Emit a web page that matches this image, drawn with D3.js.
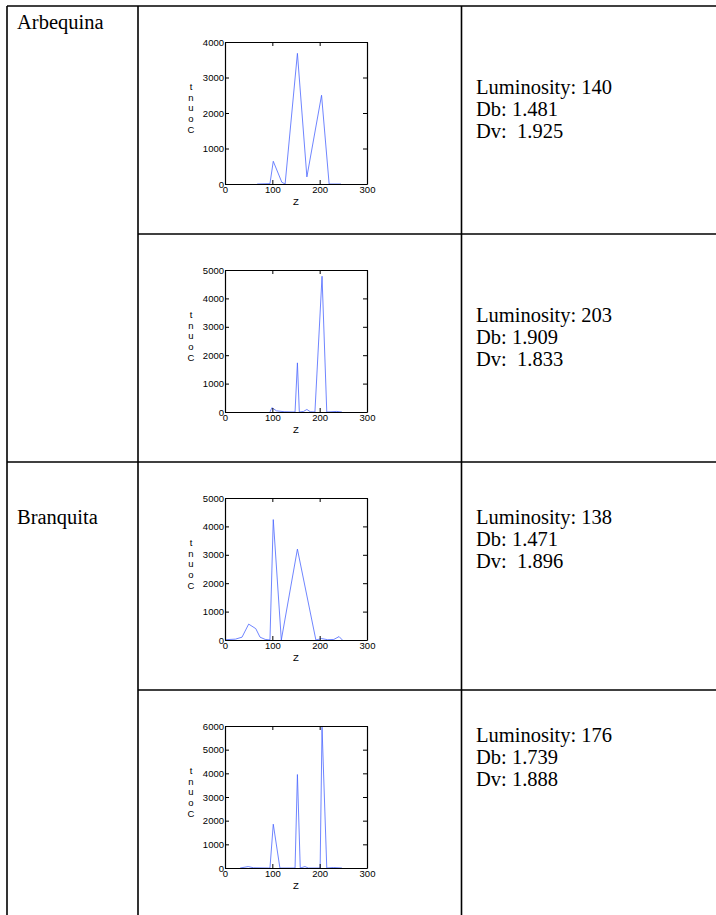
<!DOCTYPE html>
<meta charset="utf-8">
<style>
body { margin: 0; background: #fff; }
.cell { font-family: "Liberation Serif", "Times New Roman", serif; font-size: 20.5px; fill: #000; }
.tick text { font-family: "Liberation Sans", Arial, sans-serif; font-size: 9.5px; fill: #000; }
.lbl { font-family: "Liberation Sans", Arial, sans-serif; font-size: 9.5px; fill: #000; }
.line { fill: none; stroke: #4a66ff; stroke-width: 0.8px; }
</style>
<body>
<script src="https://d3js.org/d3.v7.min.js"></script>
<script>

// table content
var varieties = ["Arbequina", "Branquita"];
var luminosity = [140, 203, 138, 176];
var db = ["1.481", "1.909", "1.471", "1.739"];
var dv = ["  1.925", "  1.833", "  1.896", " 1.888"];
var yMax = [4000, 5000, 5000, 6000];
var xTicks = [0, 100, 200, 300];

// histogram traces, [Z, Count]
var hist1 = [[68,0],[95,10],[102,640],[120,50],[127,0],[153,3680],[173,200],[204,2500],[220,0],[245,0]];
var hist2 = [[95,0],[99,150],[109,40],[125,10],[148,0],[153,1730],[157,0],[166,20],[173,90],[180,10],[190,0],[205,4780],[215,0],[236,20],[247,0]];
var hist3 = [[0,10],[22,30],[36,100],[50,560],[65,400],[74,100],[85,20],[95,0],[102,4240],[119,0],[153,3200],[192,0],[204,50],[217,10],[230,20],[241,120],[248,0]];
var hist4 = [[32,0],[49,60],[60,10],[92,0],[95,0],[102,1850],[116,0],[148,0],[153,3950],[159,0],[169,60],[176,0],[201,0],[205,5950],[215,0],[229,20],[247,0]];
var hists = [hist1, hist2, hist3, hist4];

var W = 716, H = 915;
var rowTop = [6, 234, 462, 690];
var colX = [7, 138, 461.5, 720];

var svg = d3.select("body").append("svg")
    .attr("width", W)
    .attr("height", H);

// table grid
var grid = svg.append("g").attr("stroke", "#000").attr("stroke-width", 1.6);
grid.append("line").attr("x1", colX[0]).attr("x2", W).attr("y1", rowTop[0]).attr("y2", rowTop[0]);
grid.append("line").attr("x1", colX[0]).attr("x2", W).attr("y1", rowTop[2]).attr("y2", rowTop[2]);
grid.append("line").attr("x1", colX[1]).attr("x2", W).attr("y1", rowTop[1]).attr("y2", rowTop[1]);
grid.append("line").attr("x1", colX[1]).attr("x2", W).attr("y1", rowTop[3]).attr("y2", rowTop[3]);
[colX[0], colX[1], colX[2]].forEach(function(x) {
    grid.append("line").attr("x1", x).attr("x2", x).attr("y1", rowTop[0]).attr("y2", H);
});

// the stats text per row (baseline offset from row top)
var textTop = [88, 88, 62, 52];

// variety names
svg.append("text").attr("class", "cell").attr("x", 17).attr("y", rowTop[0] + 23).text(varieties[0]);
svg.append("text").attr("class", "cell").attr("x", 17).attr("y", rowTop[2] + textTop[2]).text(varieties[1]);

luminosity.forEach(function(l, i) {
    var t = svg.append("text").attr("class", "cell")
        .attr("xml:space", "preserve")
        .attr("x", 476).attr("y", rowTop[i] + textTop[i]);
    t.append("tspan").attr("x", 476).text("Luminosity: " + l);
    t.append("tspan").attr("x", 476).attr("dy", 22).text("Db: " + db[i]);
    t.append("tspan").attr("x", 476).attr("dy", 22).text("Dv:" + dv[i]);
});

// one small plot per row
var pw = 142, ph = 142;
hists.forEach(function(data, i) {
    var g = svg.append("g")
        .attr("transform", "translate(225," + (rowTop[i] + 36) + ")");

    var x = d3.scaleLinear().domain([0, 300]).range([0, pw]);
    var y = d3.scaleLinear().domain([0, yMax[i]]).range([ph, 0]);
    var yt = d3.range(0, yMax[i] + 1, 1000);

    var valueline = d3.line()
        .x(function(d) { return x(d[0]); })
        .y(function(d) { return y(d[1]); });

    g.append("path").datum(data).attr("class", "line").attr("d", valueline);

    // axes, ticks inside like matlab
    g.append("g").attr("transform", "translate(0," + ph + ")")
        .call(d3.axisBottom(x).tickValues(xTicks).tickSizeInner(-4).tickSizeOuter(0).tickPadding(2));
    g.append("g")
        .call(d3.axisLeft(y).tickValues(yt).tickFormat(d3.format("d")).tickSizeInner(-4).tickSizeOuter(0).tickPadding(1));
    g.append("g")
        .call(d3.axisTop(x).tickValues(xTicks).tickSizeInner(-4).tickSizeOuter(0).tickFormat(""));
    g.append("g").attr("transform", "translate(" + pw + ",0)")
        .call(d3.axisRight(y).tickValues(yt).tickSizeInner(-4).tickSizeOuter(0).tickFormat(""));
    g.selectAll(".domain").attr("stroke", "#000").attr("stroke-width", 1.2);
    g.selectAll(".tick line").attr("stroke", "#000");

    // x label
    g.append("text").attr("class", "lbl").attr("text-anchor", "middle")
        .attr("x", pw / 2).attr("y", ph + 21).text("Z");

    // y label, letters stacked
    var letters = ["t", "n", "u", "o", "C"];
    letters.forEach(function(c, k) {
        g.append("text").attr("class", "lbl").attr("text-anchor", "middle")
            .attr("x", -34).attr("y", 48 + k * 10.7).text(c);
    });
});

</script>
</body>
